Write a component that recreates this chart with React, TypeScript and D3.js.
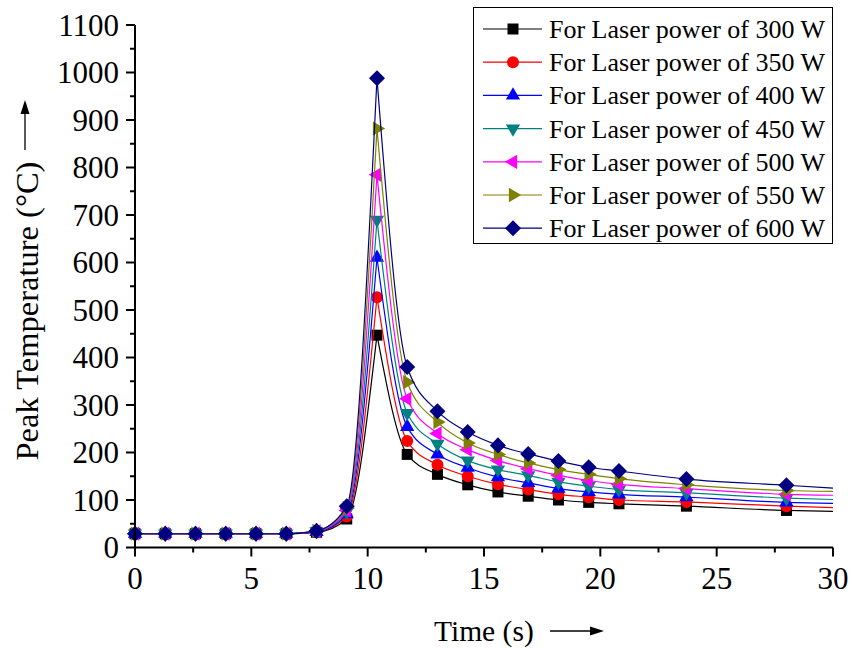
import React from "react";
import * as d3 from "d3";

const times = [0, 1.3, 2.6, 3.9, 5.2, 6.5, 7.8, 9.1, 10.4, 11.7, 13.0, 14.3, 15.6, 16.9, 18.2, 19.5, 20.8, 23.7, 28.0];
const p300 = [29, 29, 29, 29, 29, 29, 32, 60, 447, 196, 154, 132, 117, 108, 100, 95, 92, 87, 78];
const p350 = [29, 29, 29, 29, 29, 29, 33, 65, 527, 224, 174, 150, 133, 122, 112, 106, 100, 96, 87];
const p400 = [29, 29, 29, 29, 29, 29, 33, 70, 610, 254, 196, 168, 148, 136, 124, 117, 112, 106, 95];
const p450 = [29, 29, 29, 29, 29, 29, 34, 75, 690, 283, 218, 183, 164, 152, 138, 129, 122, 115, 104];
const p500 = [29, 29, 29, 29, 29, 29, 34, 78, 785, 313, 240, 206, 183, 166, 152, 141, 133, 124, 112];
const p550 = [29, 29, 29, 29, 29, 29, 35, 83, 882, 348, 264, 220, 196, 178, 164, 154, 145, 132, 120];
const p600 = [29, 29, 29, 29, 29, 29, 35, 87, 988, 380, 287, 243, 215, 197, 182, 169, 161, 144, 131];
// fitted curve value at the end of the time axis (t = 30 s)
const tailTime = 30;
const tailEnd = [76, 84, 93, 101, 110, 118, 125];

const seriesNames = [
  "For Laser power of 300 W",
  "For Laser power of 350 W",
  "For Laser power of 400 W",
  "For Laser power of 450 W",
  "For Laser power of 500 W",
  "For Laser power of 550 W",
  "For Laser power of 600 W",
];
const seriesValues = [p300, p350, p400, p450, p500, p550, p600];
const colors = ["#000000", "#ff0000", "#0000ff", "#008080", "#ff00ff", "#808000", "#000080"];
const symbolKinds = ["square", "circle", "up", "down", "left", "right", "diamond"];

const xTicks = [0, 5, 10, 15, 20, 25, 30];
const yTicks = [0, 100, 200, 300, 400, 500, 600, 700, 800, 900, 1000, 1100];

const W = 852;
const H = 648;
const FONT = "Liberation Serif";

const x = d3.scaleLinear().domain([0, 30]).range([135, 833]);
const y = d3.scaleLinear().domain([0, 1100]).range([547.5, 25]);

function symbolPath(kind: string): { d: string; rot: number } {
  switch (kind) {
    case "square":
      return { d: d3.symbol(d3.symbolSquare, 121)()!, rot: 0 };
    case "circle":
      return { d: d3.symbol(d3.symbolCircle, 113)()!, rot: 0 };
    case "up":
      return { d: d3.symbol(d3.symbolTriangle, 88)()!, rot: 0 };
    case "down":
      return { d: d3.symbol(d3.symbolTriangle, 88)()!, rot: 180 };
    case "left":
      return { d: d3.symbol(d3.symbolTriangle, 88)()!, rot: -90 };
    case "right":
      return { d: d3.symbol(d3.symbolTriangle, 88)()!, rot: 90 };
    case "diamond":
    default:
      return { d: d3.symbol(d3.symbolSquare, 128)()!, rot: 45 };
  }
}

function Marker({ cx, cy, kind, color }: { cx: number; cy: number; kind: string; color: string }) {
  const s = symbolPath(kind);
  return <path d={s.d} fill={color} transform={`translate(${cx},${cy}) rotate(${s.rot})`} />;
}

const textStyle = { fontFamily: FONT };

export default function App() {
  const line = d3
    .line<[number, number]>()
    .x((d) => x(d[0]))
    .y((d) => y(d[1]))
    .curve(d3.curveMonotoneX);

  const xMinor = d3.range(0, 30.01, 2.5).filter((v) => !xTicks.includes(v));
  const yMinor = d3.range(50, 1100, 100);

  return (
    <svg width={W} height={H} style={{ position: "absolute", left: 0, top: 0, background: "#fff" }}>
      <rect width={W} height={H} fill="#fff" />

      {/* series */}
      {seriesValues.map((vals, si) => {
        const pts: [number, number][] = times.map((t, i) => [t, vals[i]]);
        const peak = d3.maxIndex(vals);
        const rise = pts.slice(0, peak + 1);
        const fall = pts.slice(peak).concat([[tailTime, tailEnd[si]] as [number, number]]);
        return (
          <g key={si}>
            <path d={line(rise)!} fill="none" stroke={colors[si]} strokeWidth={1.2} />
            <path d={line(fall)!} fill="none" stroke={colors[si]} strokeWidth={1.2} />
            {pts.map((p, i) => (
              <Marker key={i} cx={x(p[0])} cy={y(p[1])} kind={symbolKinds[si]} color={colors[si]} />
            ))}
          </g>
        );
      })}

      {/* axes */}
      <g stroke="#000" strokeWidth={2}>
        <line x1={x(0)} x2={x(30)} y1={y(0)} y2={y(0)} />
        <line x1={x(0)} x2={x(0)} y1={y(0)} y2={y(1100)} />
        {xTicks.map((t) => (
          <line key={"xt" + t} x1={x(t)} x2={x(t)} y1={y(0)} y2={y(0) + 9} />
        ))}
        {xMinor.map((t) => (
          <line key={"xm" + t} x1={x(t)} x2={x(t)} y1={y(0)} y2={y(0) + 5} />
        ))}
        {yTicks.map((t) => (
          <line key={"yt" + t} x1={x(0) - 9} x2={x(0)} y1={y(t)} y2={y(t)} />
        ))}
        {yMinor.map((t) => (
          <line key={"ym" + t} x1={x(0) - 5} x2={x(0)} y1={y(t)} y2={y(t)} />
        ))}
      </g>
      <g fontSize={31} fill="#000" style={textStyle}>
        {xTicks.map((t) => (
          <text key={"xl" + t} x={x(t)} y={y(0) + 41} textAnchor="middle" style={textStyle}>
            {t}
          </text>
        ))}
        {yTicks.map((t) => (
          <text key={"yl" + t} x={x(0) - 16} y={y(t) + 10.5} textAnchor="end" style={textStyle}>
            {t}
          </text>
        ))}
      </g>

      {/* axis titles */}
      <text x={434} y={641} fontSize={29.5} fill="#000" style={textStyle}>
        Time (s)
      </text>
      <line x1={550} x2={596} y1={631} y2={631} stroke="#000" strokeWidth={1.3} />
      <path d="M604,631 L590,626.5 L590,635.5 Z" fill="#000" />

      <text
        transform="translate(38,311) rotate(-90)"
        textAnchor="middle"
        fontSize={32.5}
        fill="#000"
        style={textStyle}
      >
        Peak Temperature (°C)
      </text>
      <line x1={25} x2={25} y1={150} y2={108} stroke="#000" strokeWidth={1.3} />
      <path d="M25,100 L20.5,114 L29.5,114 Z" fill="#000" />

      {/* legend */}
      <rect x={473.5} y={7.5} width={359} height={236} fill="#fff" stroke="#000" strokeWidth={1} />
      {seriesNames.map((name, i) => {
        const cy = 29 + i * 33.2;
        return (
          <g key={"lg" + i}>
            <line x1={483} x2={542} y1={cy} y2={cy} stroke={colors[i]} strokeWidth={1.2} />
            <Marker cx={513} cy={cy} kind={symbolKinds[i]} color={colors[i]} />
            <text x={549} y={cy + 9} fontSize={26} fill="#000" style={textStyle}>
              {name}
            </text>
          </g>
        );
      })}
    </svg>
  );
}
